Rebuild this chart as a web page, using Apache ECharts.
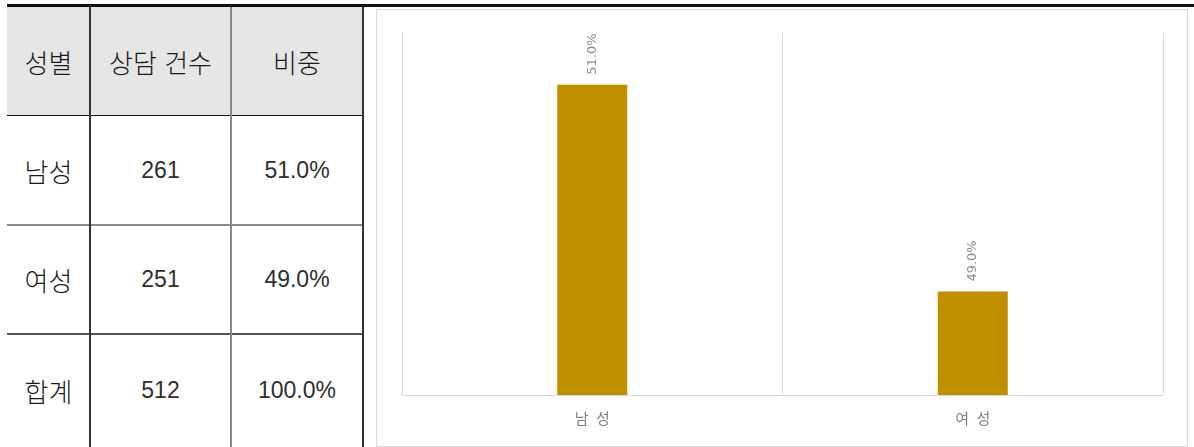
<!DOCTYPE html>
<html lang="ko">
<head>
<meta charset="utf-8">
<title>성별 상담 건수</title>
<script src="https://cdn.jsdelivr.net/npm/echarts@6/dist/echarts.min.js"></script>
<style>
  html, body { margin: 0; padding: 0; background: #fff; }
  body { width: 1194px; height: 447px; position: relative; overflow: hidden;
         font-family: "Noto Sans CJK KR", sans-serif; }
  .abs { position: absolute; }
  .cell { position: absolute; display: flex; align-items: center; justify-content: center;
          color: #1a1a1a; white-space: pre; }
  .ko { font-size: 26px; font-weight: 300; }
  .num { font-family: "Liberation Sans", sans-serif; font-size: 23px; color: #2e2e2e; }
  #chart { position: absolute; left: 376px; top: 9px; width: 810px; height: 436px;
           border: 1px solid #d9d9d9; }
</style>
</head>
<body>
<div id="table"></div>
<div id="chart"></div>
<script>
// 성별 상담 건수 데이터
const headers = ['성별', '상담 건수', '비중'];
const genders = ['남성', '여성'];
const counts = [261, 251];
const shares = [51.0, 49.0];
const totalLabel = '합계';
const totalCount = 512;
const totalShare = 100.0;

// 표 배치 (열 경계와 행 경계)
const colEdges = [7, 90, 231, 363];
const rowEdges = [7, 115, 225, 334, 447];

const table = document.getElementById('table');
function add(cls, style, text) {
  const d = document.createElement('div');
  d.className = cls;
  Object.assign(d.style, style);
  if (text !== undefined) d.textContent = text;
  table.appendChild(d);
  return d;
}

// 머리글 배경
add('abs', { left: '7px', top: '7px', width: (363 - 7) + 'px', height: (115 - 7) + 'px', background: '#e5e5e5' });

// 셀 텍스트
const rows = [headers]
  .concat(genders.map((g, i) => [g, String(counts[i]), shares[i].toFixed(1) + '%']))
  .concat([[totalLabel, String(totalCount), totalShare.toFixed(1) + '%']]);
rows.forEach((r, ri) => {
  r.forEach((t, ci) => {
    add('cell ' + (ri === 0 || ci === 0 ? 'ko' : 'num'), {
      left: colEdges[ci] + 'px', top: rowEdges[ri] + 'px',
      width: (colEdges[ci + 1] - colEdges[ci]) + 'px',
      height: (rowEdges[ri + 1] - rowEdges[ri]) + 'px'
    }, t);
  });
});

// 굵은 윗선
add('abs', { left: '7px', top: '4px', width: (1194 - 7) + 'px', height: '3px', background: '#111' });
// 가로 구분선
add('abs', { left: '7px', top: '115px', width: '356px', height: '1px', background: '#111' });
add('abs', { left: '7px', top: '224px', width: '356px', height: '2px', background: '#8a8a8a' });
add('abs', { left: '7px', top: '333px', width: '356px', height: '2px', background: '#555' });
// 세로 구분선
add('abs', { left: '89px', top: '7px', width: '2px', height: '440px', background: '#333' });
add('abs', { left: '230px', top: '7px', width: '2px', height: '440px', background: '#888' });
add('abs', { left: '362px', top: '7px', width: '2px', height: '440px', background: '#333' });

// 막대 차트
const chart = echarts.init(document.getElementById('chart'), null, { renderer: 'canvas' });
chart.setOption({
  animation: false,
  grid: { left: 25, right: 24, top: 23, bottom: 51 },
  xAxis: {
    type: 'category',
    data: genders,
    axisTick: { show: false },
    axisLine: { lineStyle: { color: '#d9d9d9', width: 1 } },
    splitLine: { show: true, interval: 0, lineStyle: { color: '#d9d9d9', width: 1 } },
    axisLabel: {
      color: '#808080', fontSize: 15, margin: 16,
      fontFamily: 'Noto Sans CJK KR',
      formatter: v => v.split('').join('\u2002')
    }
  },
  yAxis: {
    type: 'value',
    min: 48, max: 51.5,
    show: false,
    splitLine: { show: false }
  },
  series: [{
    type: 'bar',
    data: shares,
    barWidth: 70,
    itemStyle: { color: '#bf8f00' },
    label: {
      show: true,
      position: 'top',
      rotate: 90,
      align: 'left',
      verticalAlign: 'middle',
      distance: 10,
      color: '#8c8c8c',
      fontSize: 13,
      fontFamily: 'DejaVu Sans',
      formatter: p => p.value.toFixed(1) + '%'
    }
  }]
});
</script>
</body>
</html>
